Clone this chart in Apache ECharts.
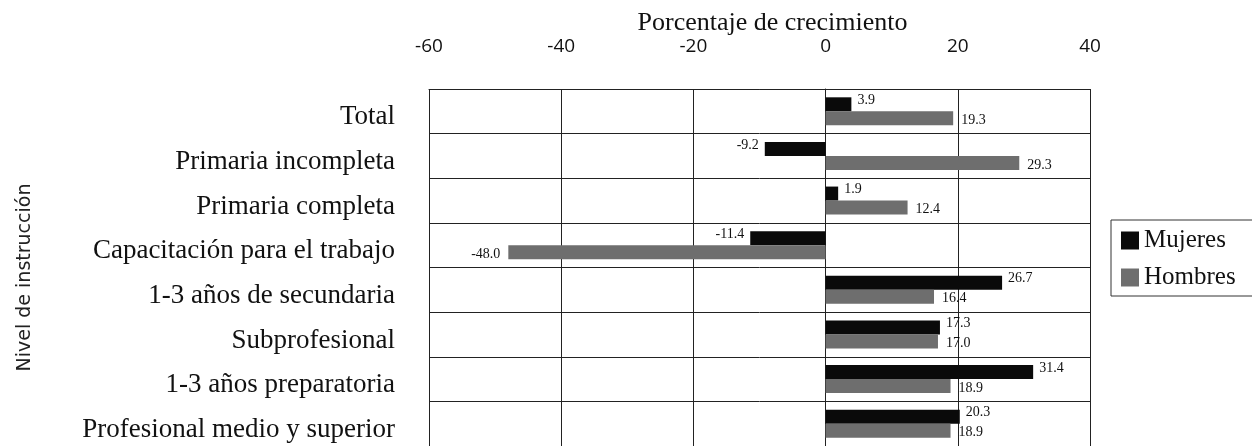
<!DOCTYPE html>
<html>
<head>
<meta charset="utf-8">
<script src="https://cdn.jsdelivr.net/npm/echarts@6/dist/echarts.min.js"></script>
<style>
  html, body { margin: 0; padding: 0; background: #fff; }
  #chart { width: 1252px; height: 446px; }
</style>
</head>
<body>
<div id="chart"></div>
<script>
// categorias (de arriba hacia abajo)
const categorias = [
  "Total",
  "Primaria incompleta",
  "Primaria completa",
  "Capacitación para el trabajo",
  "1-3 años de secundaria",
  "Subprofesional",
  "1-3 años preparatoria",
  "Profesional medio y superior"
];
const mujeres = [3.9, -9.2, 1.9, -11.4, 26.7, 17.3, 31.4, 20.3];
const hombres = [19.3, 29.3, 12.4, -48.0, 16.4, 17.0, 18.9, 18.9];
const ticksX = [-60, -40, -20, 0, 20, 40];

const serif = "'Liberation Serif', 'DejaVu Serif', serif";

// etiqueta a la derecha si es positivo, a la izquierda si es negativo
function conEtiqueta(arr, dy, dist) {
  return arr.map(v => ({
    value: v,
    label: {
      position: v < 0 ? "left" : "right",
      offset: [0, dy],
      distance: dist
    }
  }));
}

const chart = echarts.init(document.getElementById("chart"));

const option = {
  animation: false,
  backgroundColor: "#fff",
  grid: {
    left: 429,
    right: 162,
    top: 89,
    bottom: 0,
    containLabel: false
  },
  legend: {
    orient: "vertical",
    left: 1111,
    top: 220,
    padding: [8, 40, 6, 10],
    borderColor: "#333",
    borderWidth: 1,
    icon: "rect",
    itemWidth: 18,
    itemHeight: 18,
    itemGap: 12,
    textStyle: { fontFamily: serif, fontSize: 25, color: "#111" },
    data: ["Mujeres", "Hombres"]
  },
  xAxis: {
    type: "value",
    position: "top",
    min: ticksX[0],
    max: ticksX[ticksX.length - 1],
    interval: 20,
    name: "Porcentaje de crecimiento",
    nameLocation: "middle",
    nameGap: 53,
    nameMoveOverlap: false,
    nameTextStyle: { fontFamily: serif, fontSize: 26, color: "#111", padding: [0, 0, 0, 26] },
    axisLine: { show: true, lineStyle: { color: "#222", width: 1 } },
    axisTick: { show: false },
    axisLabel: {
      margin: 33,
      fontFamily: "'Open Sans', 'DejaVu Sans', sans-serif",
      fontSize: 19,
      color: "#111"
    },
    splitLine: { show: true, lineStyle: { color: "#222", width: 1 } }
  },
  yAxis: {
    type: "category",
    inverse: true,
    data: categorias,
    name: "Nivel de instrucción",
    nameLocation: "middle",
    nameRotate: 90,
    nameGap: 394,
    nameMoveOverlap: false,
    nameTextStyle: {
      fontFamily: "'DejaVu Sans', sans-serif",
      fontSize: 19,
      color: "#222",
      padding: [0, 20, 0, 0]
    },
    axisLine: { show: true, lineStyle: { color: "#222", width: 1 } },
    axisTick: { show: false },
    axisLabel: {
      margin: 34,
      formatter: v => "{a|" + v + "}",
      rich: {
        a: {
          fontFamily: serif,
          fontSize: 27,
          color: "#111",
          padding: [12, 0, 0, 0]
        }
      }
    },
    splitLine: { show: true, interval: 0, lineStyle: { color: "#222", width: 1 } }
  },
  series: [
    {
      name: "Mujeres",
      type: "bar",
      barWidth: 14,
      barGap: "0%",
      itemStyle: { color: "#0a0a0a" },
      label: {
        show: true,
        fontFamily: serif,
        fontSize: 14,
        color: "#111",
        formatter: p => p.value.toFixed(1)
      },
      data: conEtiqueta(mujeres, -4, 6)
    },
    {
      name: "Hombres",
      type: "bar",
      barWidth: 14,
      barGap: "0%",
      itemStyle: { color: "#6e6e6e" },
      label: {
        show: true,
        fontFamily: serif,
        fontSize: 14,
        color: "#111",
        formatter: p => p.value.toFixed(1)
      },
      data: conEtiqueta(hombres, 2, 8)
    }
  ]
};

chart.setOption(option);
</script>
</body>
</html>
